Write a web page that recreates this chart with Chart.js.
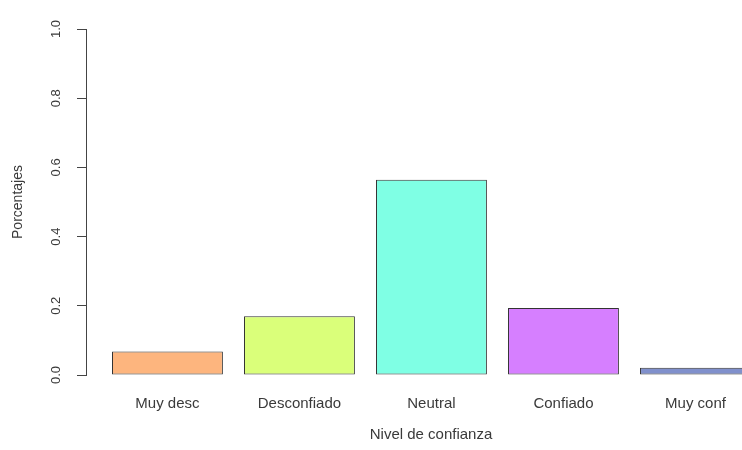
<!DOCTYPE html>
<html>
<head>
<meta charset="utf-8">
<script src="https://cdn.jsdelivr.net/npm/chart.js@4.4.0/dist/chart.umd.min.js"></script>
<style>
  html, body { margin: 0; padding: 0; background: #fff; overflow: hidden; }
  #wrap { width: 800px; height: 450px; }
</style>
</head>
<body>
<div id="wrap"><canvas id="barChart" width="800" height="450"></canvas></div>
<script>
// --- DATA ---
const categories = ['Muy desc', 'Desconfiado', 'Neutral', 'Confiado', 'Muy conf'];
const porcentajes = [0.068, 0.170, 0.564, 0.194, 0.021];
const barColors = ['#FDB57E', '#DAFF7A', '#7FFFE4', '#D67FFF', '#8090CC'];
const yTicks = [0, 0.2, 0.4, 0.6, 0.8, 1.0];

const textColor = '#3a3a3a';
const fontFamily = '"Liberation Sans", Arial, sans-serif';

document.addEventListener("DOMContentLoaded", function() {
    const ctx = document.getElementById('barChart');

    // linear x axis so the plot region can run past the right edge like the R original
    new Chart(ctx, {
        type: 'bar',
        data: {
            datasets: [{
                label: 'Porcentajes',
                data: porcentajes.map((v, i) => ({ x: i, y: v })),
                backgroundColor: barColors,
                borderColor: '#333',
                borderWidth: 1,
                borderSkipped: false,
                barPercentage: 0.84,
                categoryPercentage: 1
            }]
        },
        options: {
            responsive: false,
            animation: false,
            layout: { padding: { top: 29, right: 24, bottom: 0, left: 0 } },
            plugins: { legend: { display: false }, tooltip: { enabled: false } },
            scales: {
                x: {
                    type: 'linear',
                    offset: false,
                    min: -0.617,
                    max: 4.61,
                    grid: { display: false, drawTicks: false, offset: false },
                    border: { display: false },
                    afterBuildTicks: s => { s.ticks = categories.map((c, i) => ({ value: i })); },
                    afterFit: s => { s.height = 75; },
                    ticks: {
                        padding: 20,
                        color: textColor,
                        font: { family: fontFamily, size: 15 },
                        maxRotation: 0,
                        autoSkip: false,
                        callback: v => categories[v]
                    },
                    title: {
                        display: true,
                        text: 'Nivel de confianza',
                        color: textColor,
                        font: { family: fontFamily, size: 15 },
                        padding: { top: 4, bottom: 6 }
                    }
                },
                y: {
                    min: 0,
                    max: 1,
                    afterBuildTicks: s => { s.ticks = yTicks.map(v => ({ value: v })); },
                    afterFit: s => { s.width = 86; },
                    grid: { drawOnChartArea: false, tickLength: 9, color: '#444', tickWidth: 1 },
                    border: { display: true, color: '#444', width: 1 },
                    ticks: {
                        minRotation: 90,
                        maxRotation: 90,
                        crossAlign: 'center',
                        padding: 12,
                        color: textColor,
                        font: { family: fontFamily, size: 13 },
                        callback: v => v.toFixed(1)
                    },
                    title: {
                        display: true,
                        text: 'Porcentajes',
                        color: textColor,
                        font: { family: fontFamily, size: 14 },
                        padding: { top: 10, bottom: 4 }
                    }
                }
            }
        }
    });
});
</script>
</body>
</html>
